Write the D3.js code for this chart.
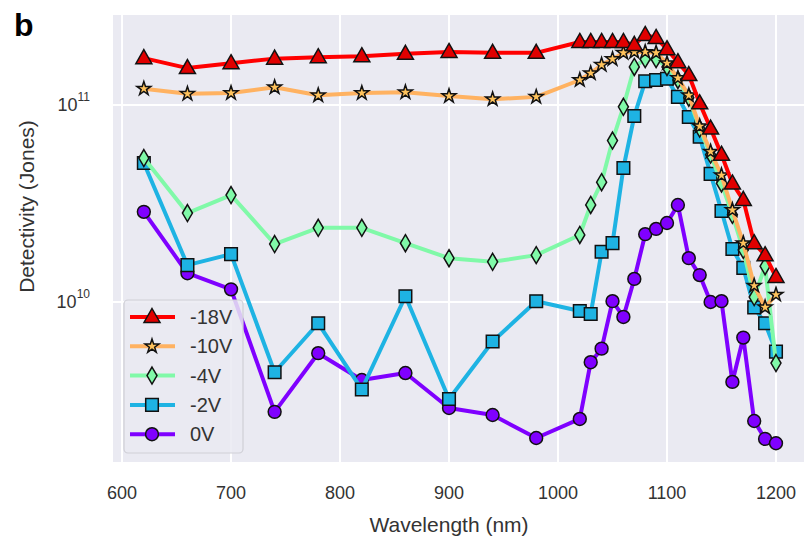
<!DOCTYPE html>
<html>
<head>
<meta charset="utf-8">
<script src="https://cdn.jsdelivr.net/npm/d3@7"></script>
<style>
  body { margin: 0; background: #fff; }
  svg { font-family: "Liberation Sans", Arial, sans-serif; }
</style>
</head>
<body>
<div id="chart"></div>
<script>
// detectivity vs wavelength, one series per bias
var wavelengths = [620, 660, 700, 740, 780, 820, 860, 900, 940, 980,
    1020, 1030, 1040, 1050, 1060, 1070, 1080, 1090, 1100, 1110,
    1120, 1130, 1140, 1150, 1160, 1170, 1180, 1190, 1200];

var v18 = [1.73e11, 1.54e11, 1.63e11, 1.72e11, 1.75e11, 1.77e11, 1.82e11, 1.86e11, 1.84e11, 1.84e11,
    2.09e11, 2.09e11, 2.09e11, 2.09e11, 2.09e11, 2.02e11, 2.27e11, 2.19e11, 1.92e11, 1.65e11,
    1.42e11, 1.02e11, 7.6e10, 5.6e10, 4.0e10, 3.3e10, 1.99e10, 1.73e10, 1.34e10];

var v10 = [1.21e11, 1.14e11, 1.15e11, 1.23e11, 1.12e11, 1.15e11, 1.16e11, 1.11e11, 1.07e11, 1.10e11,
    1.34e11, 1.45e11, 1.60e11, 1.71e11, 1.84e11, 1.86e11, 1.86e11, 1.84e11, 1.63e11, 1.37e11,
    1.12e11, 7.8e10, 5.8e10, 4.4e10, 2.93e10, 1.99e10, 1.21e10, 9.4e9, 1.09e10];

var v4 = [5.38e10, 2.83e10, 3.49e10, 1.97e10, 2.38e10, 2.38e10, 1.99e10, 1.67e10, 1.60e10, 1.73e10,
    2.19e10, 3.11e10, 4.06e10, 6.6e10, 9.8e10, 1.56e11, 1.71e11, 1.71e11, 1.56e11, 1.34e11,
    1.09e11, 7.6e10, 5.6e10, 4.0e10, 2.77e10, 1.84e10, 1.06e10, 1.52e10, 4.9e9];

var v2 = [5.08e10, 1.54e10, 1.75e10, 4.4e9, 7.8e9, 3.6e9, 1.07e10, 3.22e9, 6.3e9, 1.01e10,
    9.0e9, 8.7e9, 1.80e10, 1.99e10, 4.79e10, 8.8e10, 1.32e11, 1.34e11, 1.36e11, 1.10e11,
    8.7e10, 6.9e10, 4.47e10, 2.90e10, 1.86e10, 1.49e10, 9.4e9, 7.8e9, 5.6e9];

var v0 = [2.87e10, 1.40e10, 1.16e10, 2.77e9, 5.5e9, 4.02e9, 4.36e9, 2.90e9, 2.67e9, 2.04e9,
    2.55e9, 4.95e9, 5.8e9, 1.01e10, 8.4e9, 1.31e10, 2.21e10, 2.35e10, 2.52e10, 3.11e10,
    1.67e10, 1.37e10, 1.0e10, 1.01e10, 3.93e9, 6.6e9, 2.49e9, 2.02e9, 1.92e9];

var seriesNames = ["-18V", "-10V", "-4V", "-2V", "0V"];
var xTicks = [600, 700, 800, 900, 1000, 1100, 1200];
var yTicks = [1e10, 1e11];

var series = [
    {name: seriesNames[0], values: v18, line: "#ff0000", fill: "#e00000", marker: "triangle"},
    {name: seriesNames[1], values: v10, line: "#ffb261", fill: "#ffc35c", marker: "star"},
    {name: seriesNames[2], values: v4, line: "#80f9a8", fill: "#80f9a8", marker: "diamond"},
    {name: seriesNames[3], values: v2, line: "#1eb3e3", fill: "#1eb3e3", marker: "square"},
    {name: seriesNames[4], values: v0, line: "#7f00ff", fill: "#8000ff", marker: "circle"}
];

var width = 807, height = 545;
var plotLeft = 113, plotRight = 804, plotTop = 15, plotBottom = 462;

var svg = d3.select("#chart").append("svg")
    .attr("width", width)
    .attr("height", height);

var x = d3.scaleLinear().domain([591.7, 1225.7]).range([plotLeft, plotRight]);
var y = d3.scaleLog().domain([Math.pow(10, 9.188), Math.pow(10, 11.457)]).range([plotBottom, plotTop]);

svg.append("rect")
    .attr("x", plotLeft).attr("y", plotTop)
    .attr("width", plotRight - plotLeft).attr("height", plotBottom - plotTop)
    .attr("fill", "#eaeaf2");

// grid
svg.append("g").selectAll("line").data(xTicks).enter().append("line")
    .attr("x1", function(d) { return x(d); }).attr("x2", function(d) { return x(d); })
    .attr("y1", plotTop).attr("y2", plotBottom)
    .attr("stroke", "#fff").attr("stroke-width", 2);

svg.append("g").selectAll("line").data(yTicks).enter().append("line")
    .attr("x1", plotLeft).attr("x2", plotRight)
    .attr("y1", function(d) { return y(d); }).attr("y2", function(d) { return y(d); })
    .attr("stroke", "#fff").attr("stroke-width", 2);

// x tick labels
svg.append("g").selectAll("text").data(xTicks).enter().append("text")
    .attr("x", function(d) { return x(d); })
    .attr("y", 499)
    .attr("text-anchor", "middle")
    .attr("font-size", 18)
    .attr("fill", "#333")
    .text(function(d) { return d; });

// y tick labels as 10^n
var yl = svg.append("g").selectAll("text").data(yTicks).enter().append("text")
    .attr("x", 90)
    .attr("y", function(d) { return y(d) + 6; })
    .attr("text-anchor", "end")
    .attr("font-size", 18)
    .attr("fill", "#333");
yl.append("tspan").text("10");
yl.append("tspan").attr("font-size", 12).attr("dy", -10)
    .text(function(d) { return Math.round(Math.log10(d)); });

svg.append("text")
    .attr("x", (x(600) + x(1200)) / 2)
    .attr("y", 532)
    .attr("text-anchor", "middle")
    .attr("font-size", 21)
    .attr("fill", "#333")
    .text("Wavelength (nm)");

svg.append("text")
    .attr("transform", "translate(34," + ((plotTop + plotBottom) / 2 - 32) + ") rotate(-90)")
    .attr("text-anchor", "middle")
    .attr("font-size", 21)
    .attr("fill", "#333")
    .text("Detectivity (Jones)");

svg.append("text")
    .attr("x", 14).attr("y", 36)
    .attr("font-size", 32)
    .attr("font-weight", "bold")
    .attr("fill", "#000")
    .text("b");

function markerPath(type) {
    if (type === "triangle") return "M0,-8.5L8,5.5L-8,5.5Z";
    if (type === "square") return "M-6.3,-6.3H6.3V6.3H-6.3Z";
    if (type === "diamond") return "M0,-8.5L5,0L0,8.5L-5,0Z";
    if (type === "star") return d3.symbol().type(d3.symbolStar).size(60)();
    return d3.symbol().type(d3.symbolCircle).size(130)();
}

var line = d3.line()
    .x(function(d) { return x(d.w); })
    .y(function(d) { return y(d.v); });

// drawn bottom-up so -18V ends on top
series.slice().reverse().forEach(function(s) {
    var pts = wavelengths.map(function(w, i) { return {w: w, v: s.values[i]}; });
    var g = svg.append("g");
    g.append("path").datum(pts)
        .attr("d", line)
        .attr("fill", "none")
        .attr("stroke", s.line)
        .attr("stroke-width", 4)
        .attr("stroke-linejoin", "round");
    g.selectAll("path.m").data(pts).enter().append("path")
        .attr("class", "m")
        .attr("d", markerPath(s.marker))
        .attr("transform", function(d) { return "translate(" + x(d.w) + "," + y(d.v) + ")"; })
        .attr("fill", s.fill)
        .attr("stroke", "#111")
        .attr("stroke-width", 1.5);
});

// legend
var lg = svg.append("g");
lg.append("rect")
    .attr("x", 124).attr("y", 300)
    .attr("width", 119).attr("height", 153)
    .attr("rx", 4)
    .attr("fill", "#eaeaf2").attr("fill-opacity", 0.85)
    .attr("stroke", "#cfcfd6").attr("stroke-width", 1.2);

series.forEach(function(s, i) {
    var ly = 317 + i * 29.3;
    lg.append("line")
        .attr("x1", 130).attr("x2", 175)
        .attr("y1", ly).attr("y2", ly)
        .attr("stroke", s.line).attr("stroke-width", 4);
    lg.append("path")
        .attr("d", markerPath(s.marker))
        .attr("transform", "translate(152," + ly + ")")
        .attr("fill", s.fill)
        .attr("stroke", "#111")
        .attr("stroke-width", 1.5);
    lg.append("text")
        .attr("x", 190).attr("y", ly + 7)
        .attr("font-size", 20)
        .attr("fill", "#333")
        .text(s.name);
});
</script>
</body>
</html>
